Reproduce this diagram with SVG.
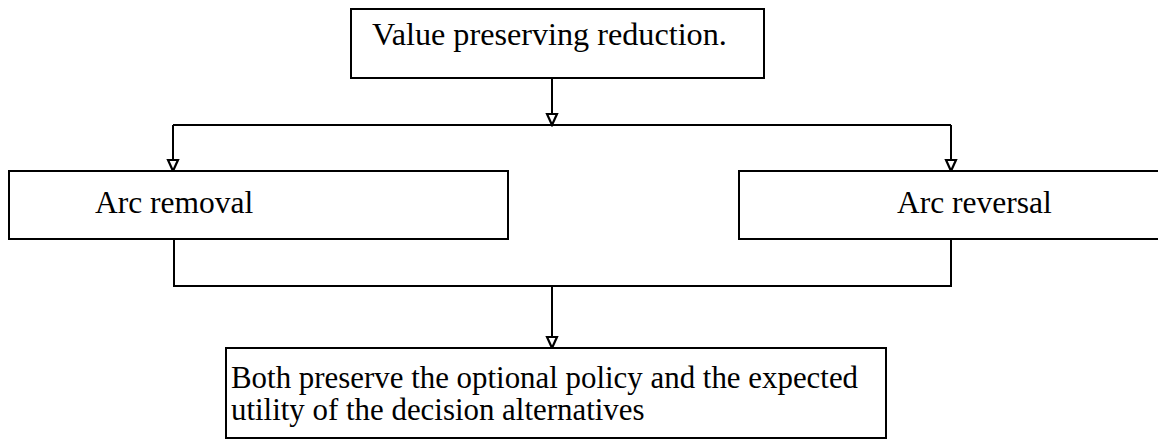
<svg xmlns="http://www.w3.org/2000/svg" width="1158" height="441" viewBox="0 0 1158 441">
  <style>
    .box { fill: #ffffff; stroke: #000000; stroke-width: 2; }
    .label { font-family: "Liberation Serif", "Times New Roman", serif; font-size: 31.5px; fill: #000000; }
    .title { font-size: 32.2px; }
    .note { font-size: 30.9px; }
    .wire { fill: none; stroke: #000000; stroke-width: 2; }
  </style>
  <defs>
    <!-- small open triangle arrowhead, tip at the end of the line -->
    <marker id="arrow" markerWidth="14" markerHeight="14" refX="12" refY="6" orient="auto" markerUnits="userSpaceOnUse" viewBox="0 0 14 12">
      <path d="M1,1 L12,6 L1,11 Z" fill="#ffffff" stroke="#000000" stroke-width="2.2" stroke-linejoin="miter"/>
    </marker>
  </defs>
  <rect width="1158" height="441" fill="#ffffff"/>

  <g id="connectors">
    <!-- top box down to the split bar -->
    <path class="wire" d="M552,78 V125" marker-end="url(#arrow)"/>
    <!-- split bar to both branches -->
    <path class="wire" d="M173,125 H951"/>
    <path class="wire" d="M173,125 V171" marker-end="url(#arrow)"/>
    <path class="wire" d="M951,125 V171" marker-end="url(#arrow)"/>
    <!-- branches merge down to result -->
    <path class="wire" d="M174,239 V286 H951 V239"/>
    <path class="wire" d="M552,286 V348" marker-end="url(#arrow)"/>
  </g>

  <g id="node-reduction">
    <rect class="box" x="351" y="9" width="413" height="69"/>
    <text class="label title" x="372" y="45">Value preserving reduction.</text>
  </g>

  <g id="node-removal">
    <rect class="box" x="9" y="171" width="499" height="68"/>
    <text class="label" x="95" y="213">Arc removal</text>
  </g>

  <g id="node-reversal">
    <rect class="box" x="739" y="171" width="425" height="68"/>
    <text class="label" x="897" y="213">Arc reversal</text>
  </g>

  <g id="node-result">
    <rect class="box" x="226" y="348" width="660" height="90"/>
    <text class="label note" x="231" y="388">Both preserve the optional policy and the expected</text>
    <text class="label note" x="231" y="420">utility of the decision alternatives</text>
  </g>
</svg>
